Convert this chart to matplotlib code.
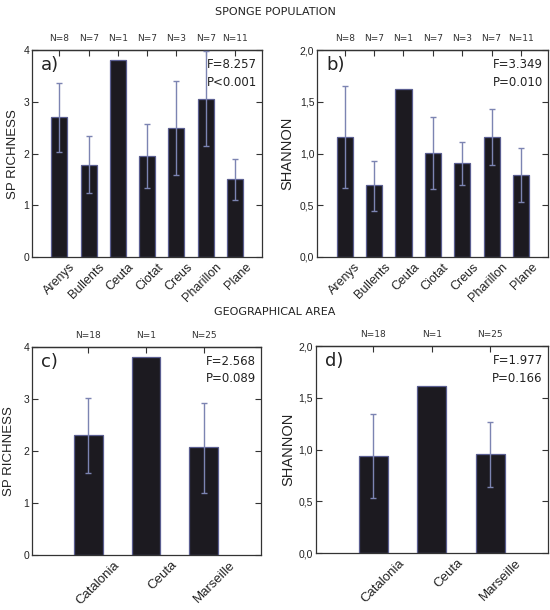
import numpy as np
import matplotlib
matplotlib.use("Agg")
import matplotlib.pyplot as plt
import matplotlib.transforms as mtransforms

# sponge population data
sites = ["Arenys", "Bullents", "Ceuta", "Ciotat", "Creus", "Pharillon", "Plane"]
site_n = ["N=8", "N=7", "N=1", "N=7", "N=3", "N=7", "N=11"]
rich_site = [2.70, 1.78, 3.82, 1.96, 2.50, 3.06, 1.51]
rich_site_lo = [2.04, 1.24, 3.82, 1.34, 1.58, 2.14, 1.11]
rich_site_hi = [3.36, 2.34, 3.82, 2.58, 3.41, 3.99, 1.90]
shan_site = [1.163, 0.696, 1.62, 1.008, 0.905, 1.159, 0.792]
shan_site_lo = [0.670, 0.448, 1.62, 0.654, 0.692, 0.886, 0.535]
shan_site_hi = [1.655, 0.930, 1.62, 1.356, 1.114, 1.427, 1.050]

# geographical area data
areas = ["Catalonia", "Ceuta", "Marseille"]
area_n = ["N=18", "N=1", "N=25"]
rich_area = [2.30, 3.80, 2.07]
rich_area_lo = [1.57, 3.80, 1.20]
rich_area_hi = [3.02, 3.80, 2.92]
shan_area = [0.94, 1.615, 0.957]
shan_area_lo = [0.53, 1.615, 0.642]
shan_area_hi = [1.34, 1.615, 1.268]

BAR = "#1c1a20"
EDGE = "#5a5e90"
ERR = "#7c84b2"
SPINE = "#333333"
ARIAL = "Liberation Sans"


def panel(fig, rect, cats, ns, vals, lo, hi, width, xlim, ylim, yticks, yfmt,
          ylabel, letter, ftxt, lab_size, lab_shift, ylab_x, ylab_size):
    ax = fig.add_axes(rect)
    x = np.arange(len(cats))
    vals = np.array(vals)
    err = [vals - np.array(lo), np.array(hi) - vals]
    ax.bar(x, vals, width=width, color=BAR, edgecolor=EDGE, linewidth=0.9, zorder=2)
    for i in range(len(x)):
        if hi[i] > vals[i] + 1e-9:
            ax.errorbar(x[i], vals[i], yerr=[[err[0][i]], [err[1][i]]], fmt="none",
                        ecolor=ERR, elinewidth=1.0, capsize=2, capthick=1.0, zorder=3)
    ax.set_xlim(*xlim)
    ax.set_ylim(*ylim)
    ax.set_yticks(yticks)
    ax.set_yticklabels([yfmt(t) for t in yticks], family=ARIAL)
    ax.tick_params(axis="y", direction="in", length=4, width=0.8, colors=SPINE,
                   labelsize=7.5, pad=2, right=True, labelcolor="#222222")
    ax.set_xticks(x)
    ax.set_xticklabels([])
    ax.tick_params(axis="x", length=0)
    # category labels, rotated, placed by hand below the bars
    trans = mtransforms.blended_transform_factory(ax.transData, ax.transAxes)
    trans = trans + mtransforms.ScaledTranslation(lab_shift / 100.0, -0.04,
                                                  fig.dpi_scale_trans)
    for xi, c in zip(x, cats):
        ax.text(xi, 0, c, transform=trans, rotation=45, ha="right", va="top",
                rotation_mode="anchor", fontsize=lab_size, color="#222222",
                family=ARIAL)
    top = ax.secondary_xaxis("top")
    top.set_xticks(x)
    top.set_xticklabels(ns, fontsize=6.5, color="#333333")
    top.tick_params(direction="in", length=4, width=0.8, colors=SPINE, pad=5,
                    labelcolor="#333333")
    for s in list(ax.spines.values()) + list(top.spines.values()):
        s.set_color(SPINE)
        s.set_linewidth(0.9)
    ax.set_ylabel(ylabel, fontsize=ylab_size, family=ARIAL, color="#222222")
    ax.yaxis.set_label_coords(ylab_x, 0.5)
    ax.text(0.04, 0.93, letter, transform=ax.transAxes, fontsize=13,
            va="center", ha="left", color="#222222")
    ax.text(0.978, 0.962, ftxt, transform=ax.transAxes, fontsize=8.5,
            va="top", ha="right", color="#222222", linespacing=1.45)
    return ax


def fmt_int(t):
    return "%d" % t


def fmt_comma(t):
    return ("%.1f" % t).replace(".", ",")


fig = plt.figure(figsize=(5.5, 6.1), dpi=100)

panel(fig, [0.058, 0.5787, 0.418, 0.339], sites, site_n, rich_site, rich_site_lo,
      rich_site_hi, 0.55, (-0.94, 6.92), (0, 4), [0, 1, 2, 3, 4], fmt_int,
      "SP RICHNESS", "a)", "F=8.257\nP<0.001", 9, 10, -0.057, 9.5)
panel(fig, [0.5764, 0.5787, 0.42, 0.339], sites, site_n, shan_site, shan_site_lo,
      shan_site_hi, 0.55, (-0.94, 6.92), (0, 2.0), [0, 0.5, 1.0, 1.5, 2.0], fmt_comma,
      "SHANNON", "b)", "F=3.349\nP=0.010", 9, 10, -0.10, 10.5)
panel(fig, [0.058, 0.0902, 0.416, 0.341], areas, area_n, rich_area, rich_area_lo,
      rich_area_hi, 0.5, (-0.98, 2.99), (0, 4), [0, 1, 2, 3, 4], fmt_int,
      "SP RICHNESS", "c)", "F=2.568\nP=0.089", 9.5, 25, -0.074, 9.5)
panel(fig, [0.5745, 0.0934, 0.4218, 0.339], areas, area_n, shan_area, shan_area_lo,
      shan_area_hi, 0.5, (-0.98, 2.99), (0, 2.0), [0, 0.5, 1.0, 1.5, 2.0], fmt_comma,
      "SHANNON", "d)", "F=1.977\nP=0.166", 9.5, 25, -0.09, 10.5)

fig.text(0.5, 1 - 12 / 610, "SPONGE POPULATION", ha="center", va="center",
         fontsize=8, color="#222222")
fig.text(0.5, 1 - 312 / 610, "GEOGRAPHICAL AREA", ha="center", va="center",
         fontsize=8, color="#222222")

fig.savefig("out.png", dpi=100)
